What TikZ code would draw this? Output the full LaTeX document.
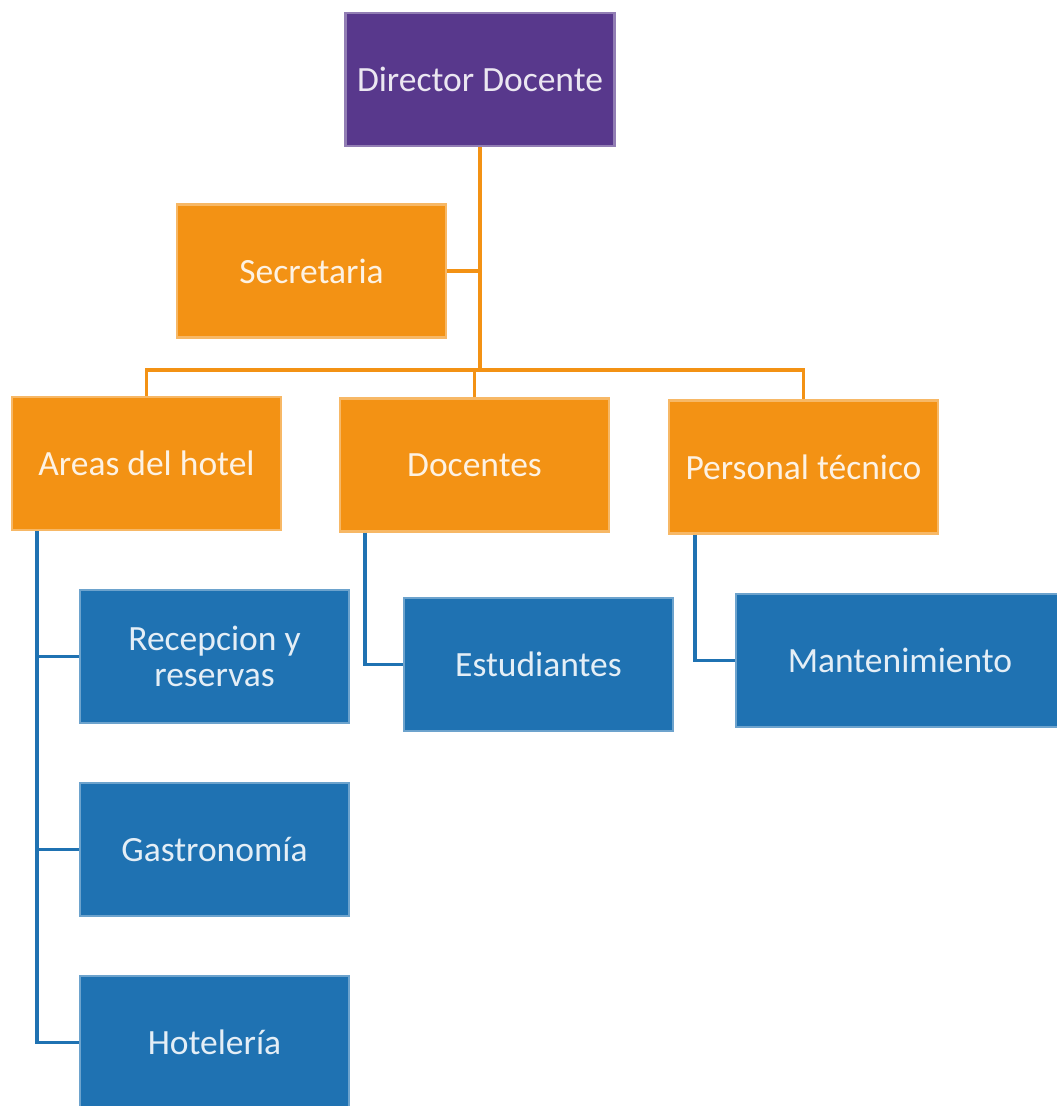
\documentclass[tikz,border=0pt]{standalone}
\usepackage{fontspec}
\setmainfont{Carlito}
\usetikzlibrary{calc}

\definecolor{dirpurple}{RGB}{88,56,140}
\definecolor{areaorange}{RGB}{243,146,20}
\definecolor{subblue}{RGB}{31,114,178}

\begin{document}
\begin{tikzpicture}[
    x=1cm,y=1cm,
    every node/.style={font=\fontsize{10.1}{10.4}\selectfont},
    unit/.style={draw=#1!65!white, line width=0.6pt, fill=#1, text=white!88!#1,
        minimum width=2.69cm, minimum height=1.33cm, inner sep=2pt, align=center},
    head/.style={unit=dirpurple},
    area/.style={unit=areaorange},
    sub/.style={unit=subblue},
    link/.style={draw=areaorange, line width=0.95pt},
    sublink/.style={draw=subblue, line width=0.95pt}
]
    \clip (0,0) rectangle (10.57,-11.06);

    \node[head] (dir) at (4.80,-0.795) {Director Docente};
    \node[area] (sec) at (3.115,-2.71) {Secretaria};
    \node[area] (areas) at (1.465,-4.635) {Areas del hotel};
    \node[area] (doc) at (4.745,-4.65) {Docentes};
    \node[area] (tec) at (8.035,-4.67) {Personal técnico};

    \node[sub] (rec) at (2.145,-6.565) {Recepcion y\\reservas};
    \node[sub] (gas) at (2.145,-8.495) {Gastronomía};
    \node[sub] (hot) at (2.145,-10.425) {Hotelería};
    \node[sub] (est) at (5.385,-6.645) {Estudiantes};
    \node[sub, minimum width=3.28cm] (man) at (9.00,-6.605) {Mantenimiento};

    % orange tree
    \coordinate (bus) at (4.78,-3.70);
    \draw[link] (dir.south) -- (dir.south |- bus);
    \draw[link] (sec.east) -- (sec.east -| dir.south);
    \draw[link] (areas.north) |- (bus) -| (tec.north);
    \draw[link] (doc.north) -- (doc.north |- bus);

    % blue branches
    \coordinate (areas-drop) at ($(areas.south west)+(0.26,0)$);
    \coordinate (doc-drop) at ($(doc.south west)+(0.26,0)$);
    \coordinate (tec-drop) at ($(tec.south west)+(0.27,0)$);
    \foreach \kid in {rec,gas,hot} {
        \draw[sublink] (areas-drop) |- (\kid.west);
    }
    \draw[sublink] (doc-drop) |- (est.west);
    \draw[sublink] (tec-drop) |- (man.west);
\end{tikzpicture}
\end{document}
